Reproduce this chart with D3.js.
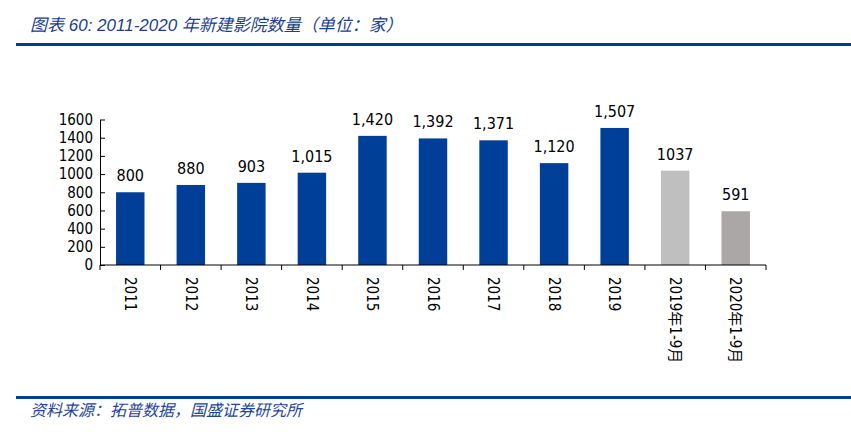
<!DOCTYPE html>
<html><head><meta charset="utf-8">
<script src="https://cdn.jsdelivr.net/npm/d3@7"></script>
<style>body{margin:0;background:#fff}svg{display:block}</style>
</head><body>
<script>
const categories = ["2011","2012","2013","2014","2015","2016","2017","2018","2019","2019年1-9月","2020年1-9月"];
const values = [800,880,903,1015,1420,1392,1371,1120,1507,1037,591];
const valueLabels = ["800","880","903","1,015","1,420","1,392","1,371","1,120","1,507","1037","591"];
const barColors = ["#003F97","#003F97","#003F97","#003F97","#003F97","#003F97","#003F97","#003F97","#003F97","#BFBFBF","#ABA7A6"];
const yTicks = [0,200,400,600,800,1000,1200,1400,1600];
const titleText = "图表 60:  2011-2020 年新建影院数量（单位：家）";
const sourceText = "资料来源：拓普数据，国盛证券研究所";

const W = 851, H = 437;
const svg = d3.select("body").append("svg").attr("width", W).attr("height", H);
const font = "'DejaVu Sans Condensed', 'DejaVu Sans', 'Noto Sans CJK SC', sans-serif";

svg.append("text").attr("x", 30).attr("y", 31)
  .attr("font-family", "'Liberation Sans', 'Noto Sans CJK SC', sans-serif")
  .attr("font-style", "italic").attr("font-size", 17).attr("fill", "#1A3E8C")
  .text(titleText);
svg.append("rect").attr("x", 16).attr("y", 43).attr("width", W - 16).attr("height", 3).attr("fill", "#003F97");
svg.append("rect").attr("x", 16).attr("y", 396).attr("width", W - 16).attr("height", 3).attr("fill", "#003F97");
svg.append("text").attr("x", 30).attr("y", 416)
  .attr("font-family", "'Noto Sans CJK SC', sans-serif")
  .attr("font-style", "italic").attr("font-size", 16).attr("fill", "#1F4596")
  .text(sourceText);

const x = d3.scaleBand().domain(categories).range([100, 766]).paddingInner(0.53).paddingOuter(0.265);
const y = d3.scaleLinear().domain([0, 1600]).range([265, 119.5]);

const g = svg.append("g");
g.selectAll("rect.bar").data(values).join("rect").attr("class","bar")
  .attr("x", (d,i) => x(categories[i])).attr("width", x.bandwidth())
  .attr("y", d => y(d)).attr("height", d => y(0) - y(d))
  .attr("fill", (d,i) => barColors[i]);

g.selectAll("text.val").data(values).join("text").attr("class","val")
  .attr("x", (d,i) => x(categories[i]) + x.bandwidth()/2)
  .attr("y", d => y(d) - 11)
  .attr("text-anchor","middle").attr("font-family", font).attr("font-size", 16).attr("fill","#000")
  .text((d,i) => valueLabels[i]);

// y axis
const ya = svg.append("g").attr("transform","translate(100,0)")
  .call(d3.axisLeft(y).tickValues(yTicks).tickSize(0).tickPadding(7).tickFormat(d3.format("d")));
ya.select(".domain").attr("stroke","#000").attr("stroke-width",1);
ya.selectAll("text").attr("font-family", font).attr("font-size", 15).attr("fill","#000");
ya.selectAll(".tick line").remove();
ya.selectAll(".tick").append("line").attr("x1",0).attr("x2",5).attr("stroke","#000");

// x axis
const xa = svg.append("g").attr("transform", `translate(0,${y(0)})`);
xa.append("line").attr("x1",100).attr("x2",766).attr("stroke","#000");
const bounds = d3.range(categories.length + 1).map(i => 100 + i * (666 / categories.length));
xa.selectAll("line.tk").data(bounds).join("line").attr("class","tk")
  .attr("x1", d => d).attr("x2", d => d).attr("y1", 0).attr("y2", 5).attr("stroke","#000");
xa.selectAll("text.cat").data(categories).join("text").attr("class","cat")
  .attr("transform", d => `translate(${x(d) + x.bandwidth()/2},12) rotate(90)`)
  .attr("dy","0.35em")
  .attr("font-family", font).attr("font-size", 15).attr("fill","#000")
  .text(d => d);
</script>
</body></html>
